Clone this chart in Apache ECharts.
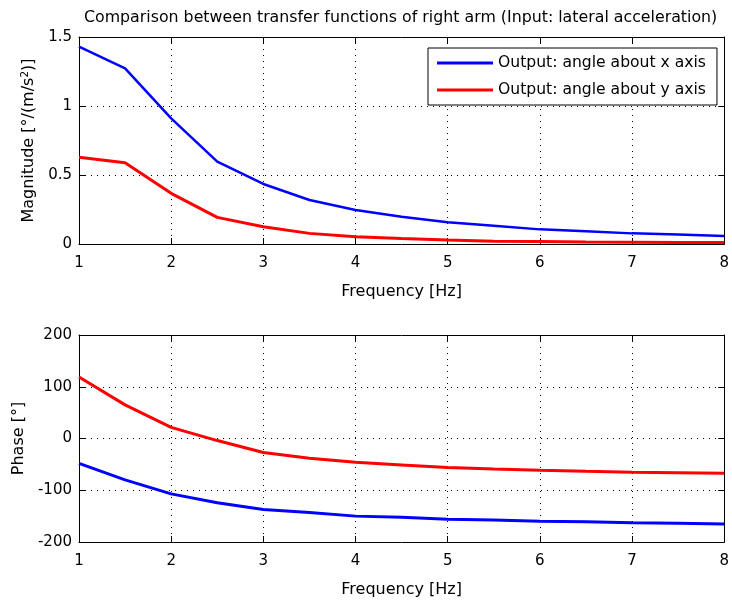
<!DOCTYPE html>
<html>
<head>
<meta charset="utf-8">
<script src="https://cdn.jsdelivr.net/npm/echarts@6/dist/echarts.min.js"></script>
<style>html,body{margin:0;padding:0;background:#fff}#c{width:732px;height:601px}</style>
</head>
<body>
<div id="c"></div>
<script>
const freq = [1, 1.5, 2, 2.5, 3, 3.5, 4, 4.5, 5, 5.5, 6, 6.5, 7, 7.5, 8];
const magX = [1.43, 1.273, 0.91, 0.597, 0.435, 0.319, 0.246, 0.198, 0.157, 0.133, 0.106, 0.092, 0.077, 0.068, 0.058];
const magY = [0.628, 0.589, 0.367, 0.193, 0.125, 0.077, 0.053, 0.039, 0.029, 0.02, 0.018, 0.015, 0.013, 0.011, 0.01];
const phaseX = [-48, -80, -107, -124, -137, -143, -150, -152, -156, -157.5, -160, -161, -163, -164, -165];
const phaseY = [119, 65, 21.6, -4, -27, -38, -46, -51, -56, -59, -61.5, -63.5, -65, -66, -67];
const seriesNames = ['Output: angle about x axis', 'Output: angle about y axis'];
const titleText = 'Comparison between transfer functions of right arm (Input: lateral acceleration)';

const FONT = 'DejaVu Sans';
const pairs = (xs, ys) => xs.map((x, i) => [x, ys[i]]);

const grids = [
  {left: 79, top: 37, width: 648, height: 207},
  {left: 79, top: 335, width: 648, height: 207}
];
const gridLine = {show: true, lineStyle: {color: '#000', type: [1, 5], width: 1}};
const axLine = {show: true, onZero: false, lineStyle: {color: '#000', width: 1}};
const tick = {show: true, inside: true, length: 6, lineStyle: {color: '#000'}};
const lab = {color: '#000', fontFamily: FONT, fontSize: 15, margin: 12};
const nameStyle = {color: '#000', fontFamily: FONT, fontSize: 16};

function xAxes(gi) {
  return [
    {gridIndex: gi, type: 'value', min: 1, max: 8, interval: 1, position: 'bottom',
     axisLine: axLine, axisTick: tick, axisLabel: lab, splitLine: gridLine,
     name: 'Frequency [Hz]', nameLocation: 'middle', nameGap: 40, nameTextStyle: nameStyle},
    {gridIndex: gi, type: 'value', min: 1, max: 8, interval: 1, position: 'top',
     axisLine: axLine, axisTick: tick, axisLabel: {show: false}, splitLine: {show: false}}
  ];
}
function yAxes(gi, min, max, interval, name, gap, rich) {
  return [
    {gridIndex: gi, type: 'value', min, max, interval, position: 'left',
     axisLine: axLine, axisTick: tick, axisLabel: Object.assign({}, lab, {margin: 7}), splitLine: gridLine,
     name, nameLocation: 'middle', nameGap: gap,
     nameTextStyle: Object.assign({}, nameStyle, {rich})},
    {gridIndex: gi, type: 'value', min, max, interval, position: 'right',
     axisLine: axLine, axisTick: tick, axisLabel: {show: false}, splitLine: {show: false}}
  ];
}

const chart = echarts.init(document.getElementById('c'), null, {renderer: 'canvas'});
chart.setOption({
  animation: false,
  backgroundColor: '#fff',
  title: {text: titleText, left: 79, top: 5,
    textStyle: {fontFamily: FONT, fontSize: 15.8, fontWeight: 'normal', color: '#000'}},
  legend: {
    data: seriesNames, orient: 'vertical', left: 428, top: 48,
    padding: [7, 11, 7, 9], itemGap: 11, itemWidth: 56, itemHeight: 3, icon: 'rect',
    backgroundColor: '#fff', borderColor: '#000', borderWidth: 1, borderRadius: 0,
    textStyle: {fontFamily: FONT, fontSize: 15.6, color: '#000'}, z: 10
  },
  grid: grids,
  xAxis: [...xAxes(0), ...xAxes(1)],
  yAxis: [
    ...yAxes(0, 0, 1.5, 0.5, '{a|Magnitude [°/(m/s}{s|2}{a|)]}', 40, {
      a: {fontFamily: FONT, fontSize: 16, color: '#000'},
      s: {fontFamily: FONT, fontSize: 10.5, color: '#000', padding: [0, 0, 8, 0]}
    }),
    ...yAxes(1, -200, 200, 100, 'Phase [°]', 48, undefined)
  ],
  series: [
    {name: seriesNames[0], type: 'line', xAxisIndex: 0, yAxisIndex: 0, data: pairs(freq, magX),
     showSymbol: false, lineStyle: {color: '#0000ff', width: 2.5}, itemStyle: {color: '#0000ff'}},
    {name: seriesNames[1], type: 'line', xAxisIndex: 0, yAxisIndex: 0, data: pairs(freq, magY),
     showSymbol: false, lineStyle: {color: '#ff0000', width: 3}, itemStyle: {color: '#ff0000'}},
    {name: 'phase x', type: 'line', xAxisIndex: 2, yAxisIndex: 2, data: pairs(freq, phaseX),
     showSymbol: false, lineStyle: {color: '#0000ff', width: 3}, itemStyle: {color: '#0000ff'}},
    {name: 'phase y', type: 'line', xAxisIndex: 2, yAxisIndex: 2, data: pairs(freq, phaseY),
     showSymbol: false, lineStyle: {color: '#ff0000', width: 3}, itemStyle: {color: '#ff0000'}}
  ]
});
</script>
</body>
</html>
